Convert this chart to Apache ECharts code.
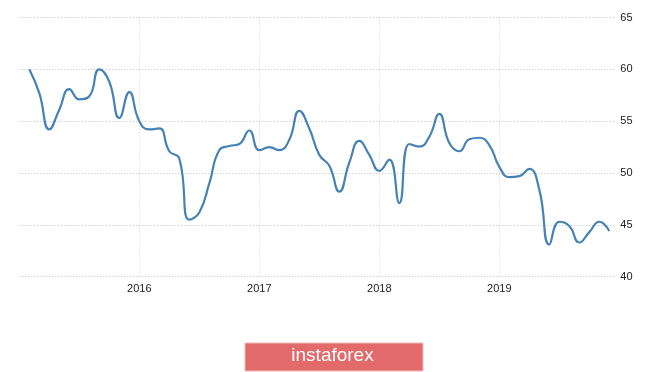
<!DOCTYPE html>
<html>
<head>
<meta charset="utf-8">
<script src="https://cdn.jsdelivr.net/npm/echarts@6/dist/echarts.min.js"></script>
<style>
html,body{margin:0;padding:0;background:#fff;}
#chart{width:665px;height:372px;}
</style>
</head>
<body>
<div id="chart"></div>
<script>
// Monthly readings, Feb 2015 .. Dec 2019
var months = [
  '2015-02','2015-03','2015-04','2015-05','2015-06','2015-07','2015-08','2015-09','2015-10','2015-11','2015-12',
  '2016-01','2016-02','2016-03','2016-04','2016-05','2016-06','2016-07','2016-08','2016-09','2016-10','2016-11','2016-12',
  '2017-01','2017-02','2017-03','2017-04','2017-05','2017-06','2017-07','2017-08','2017-09','2017-10','2017-11','2017-12',
  '2018-01','2018-02','2018-03','2018-04','2018-05','2018-06','2018-07','2018-08','2018-09','2018-10','2018-11','2018-12',
  '2019-01','2019-02','2019-03','2019-04','2019-05','2019-06','2019-07','2019-08','2019-09','2019-10','2019-11','2019-12'
];
var values = [
  60.0, 57.7, 54.2, 56.1, 58.1, 57.1, 57.4, 60.0, 58.8, 55.3, 57.8,
  55.0, 54.2, 54.3, 52.1, 51.4, 45.5, 46.2, 49.0, 52.2, 52.6, 52.8, 54.1,
  52.2, 52.5, 52.2, 53.2, 56.0, 54.3, 51.75, 50.7, 48.2, 51.0, 53.1, 51.75,
  50.2, 51.3, 47.1, 52.8, 52.55, 53.5, 55.7, 52.9, 52.1, 53.25, 53.4, 52.7,
  50.6, 49.6, 49.7, 50.4, 48.4, 43.1, 45.3, 44.9, 43.3, 44.3, 45.3, 44.4
];
var yearLabels = ['2016', '2017', '2018', '2019'];
var yTicks = [40, 45, 50, 55, 60, 65];
var watermarkText = 'instaforex';

// month index relative to Jan 2015
function monthIndex(s) {
  var p = s.split('-');
  return (parseInt(p[0], 10) - 2015) * 12 + (parseInt(p[1], 10) - 1);
}
var seriesData = months.map(function (m, i) { return [monthIndex(m), values[i]]; });

var chart = echarts.init(document.getElementById('chart'), null, {renderer: 'canvas'});
chart.setOption({
  animation: false,
  backgroundColor: '#ffffff',
  grid: {left: 19.3, right: 49.7, top: 17.5, bottom: 95.3, containLabel: false},
  xAxis: {
    type: 'value',
    min: 0,
    max: 59.6,
    interval: 12,
    axisLine: {show: false},
    axisTick: {show: false},
    axisLabel: {
      margin: 7,
      color: '#222',
      fontSize: 11,
      fontFamily: 'Liberation Sans, Arial, sans-serif',
      formatter: function (v) {
        if (v > 0 && v % 12 === 0) { return yearLabels[v / 12 - 1] || ''; }
        return '';
      }
    },
    splitLine: {
      show: true,
      lineStyle: {
        color: ['rgba(0,0,0,0)', '#d4d4d4', '#d4d4d4', '#d4d4d4', '#d4d4d4', 'rgba(0,0,0,0)'],
        type: [1, 2],
        width: 1
      }
    }
  },
  yAxis: {
    type: 'value',
    position: 'right',
    min: yTicks[0],
    max: yTicks[yTicks.length - 1],
    interval: 5,
    axisLine: {show: false},
    axisTick: {show: false},
    axisLabel: {
      margin: 5,
      color: '#222',
      fontSize: 11,
      fontFamily: 'Liberation Sans, Arial, sans-serif'
    },
    splitLine: {show: true, lineStyle: {color: '#bdbdbd', type: [1, 2], width: 1}}
  },
  series: [{
    type: 'line',
    data: seriesData,
    smooth: 0.5,
    showSymbol: false,
    symbol: 'none',
    lineStyle: {color: '#4682b4', width: 2.2},
    itemStyle: {color: '#4682b4'}
  }],
  graphic: [
    {
      type: 'rect',
      left: 244.5,
      top: 342.5,
      shape: {width: 178, height: 28},
      style: {fill: '#e26a6a', stroke: '#f2b8b8', lineWidth: 1}
    },
    {
      type: 'text',
      left: 'center',
      top: 346,
      style: {
        text: watermarkText,
        fill: '#ffffff',
        font: '19px "Liberation Sans", Arial, sans-serif',
        textAlign: 'center'
      }
    }
  ]
});
</script>
</body>
</html>
